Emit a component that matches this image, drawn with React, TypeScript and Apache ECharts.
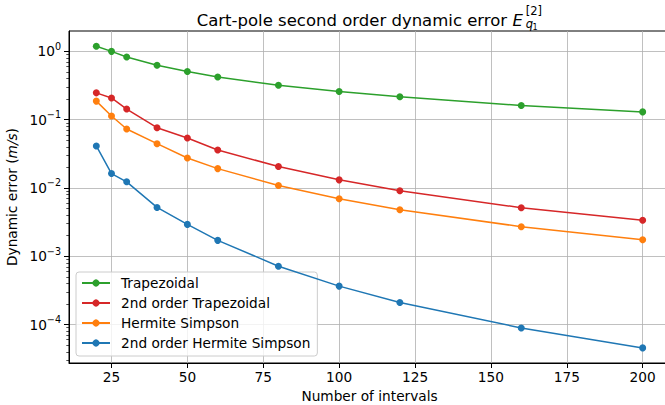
import React, { useEffect, useRef } from "react";
import * as echarts from "echarts";

const intervals = [20, 25, 30, 40, 50, 60, 80, 100, 120, 160, 200];
const trapezoidal = [1.19, 1.0, 0.826, 0.625, 0.506, 0.422, 0.319, 0.258, 0.216, 0.161, 0.13];
const trapezoidal2 = [0.247, 0.208, 0.143, 0.0762, 0.0539, 0.036, 0.0206, 0.01315, 0.0091, 0.00514, 0.00336];
const hermiteSimpson = [0.187, 0.113, 0.0729, 0.0445, 0.0275, 0.0192, 0.01086, 0.00695, 0.00481, 0.00271, 0.00175];
const hermiteSimpson2 = [0.0412, 0.01625, 0.0123, 0.00519, 0.00293, 0.00171, 0.000716, 0.000366, 0.000211, 0.0000893, 0.0000456];

const seriesNames = ["Trapezoidal", "2nd order Trapezoidal", "Hermite Simpson", "2nd order Hermite Simpson"];
const seriesColors = ["#2ca02c", "#d62728", "#ff7f0e", "#1f77b4"];
const seriesValues = [trapezoidal, trapezoidal2, hermiteSimpson, hermiteSimpson2];

const xTicks = [25, 50, 75, 100, 125, 150, 175, 200];
const yTicks = [1e-4, 1e-3, 1e-2, 1e-1, 1];
const yMinorTicks = [
  3e-5, 4e-5, 5e-5, 6e-5, 7e-5, 8e-5, 9e-5,
  2e-4, 3e-4, 4e-4, 5e-4, 6e-4, 7e-4, 8e-4, 9e-4,
  2e-3, 3e-3, 4e-3, 5e-3, 6e-3, 7e-3, 8e-3, 9e-3,
  2e-2, 3e-2, 4e-2, 5e-2, 6e-2, 7e-2, 8e-2, 9e-2,
  2e-1, 3e-1, 4e-1, 5e-1, 6e-1, 7e-1, 8e-1, 9e-1,
];

const FONT = "DejaVu Sans";
const FS = 13.7;
const Y_MIN = 2.74e-5;
const Y_MAX = 1.986;

export default function App() {
  const ref = useRef<HTMLDivElement>(null);
  useEffect(() => {
    const chart = echarts.init(ref.current!, null, { renderer: "svg" });
    const series = seriesNames.map((name, i) => ({
      name,
      type: "line",
      data: intervals.map((x, j) => [x, seriesValues[i][j]]),
      symbol: "circle",
      symbolSize: 7,
      showSymbol: true,
      color: seriesColors[i],
      lineStyle: { width: 1.5, color: seriesColors[i] },
      itemStyle: { color: seriesColors[i] },
      z: 3 + i,
    }));
    chart.setOption({
      animation: false,
      backgroundColor: "#fff",
      textStyle: { fontFamily: FONT },
      grid: {
        left: 69,
        top: 31,
        right: 10,
        bottom: 42,
        show: true,
        borderColor: "#000",
        borderWidth: 1,
        backgroundColor: "transparent",
        containLabel: false,
        outerBoundsMode: "none",
      },
      legend: {
        orient: "vertical",
        left: 76,
        top: 272,
        itemWidth: 28,
        itemHeight: 9,
        itemGap: 6,
        padding: [4, 7, 6, 5],
        backgroundColor: "rgba(255,255,255,0.8)",
        borderColor: "#cccccc",
        borderWidth: 1,
        borderRadius: 3,
        data: seriesNames,
        textStyle: { fontFamily: FONT, fontSize: FS, color: "#000", padding: [0, 0, 0, 6], lineHeight: 14 },
      },
      xAxis: {
        type: "value",
        min: 11,
        max: 209,
        name: "Number of intervals",
        nameLocation: "middle",
        nameGap: 22,
        nameTextStyle: { fontFamily: FONT, fontSize: FS, color: "#000" },
        axisLine: { show: true, lineStyle: { color: "#000", width: 1 } },
        axisTick: { show: true, customValues: xTicks, length: 5, lineStyle: { color: "#000", width: 1 } },
        axisLabel: { customValues: xTicks, margin: 7, fontFamily: FONT, fontSize: FS, color: "#000" },
        splitLine: { show: true, lineStyle: { color: "#b0b0b0", width: 0.8 } },
      },
      yAxis: [
        {
          type: "log",
          logBase: 10,
          min: Y_MIN,
          max: Y_MAX,
          position: "left",
          name: "Dynamic error ({i|m/s})",
          nameLocation: "middle",
          nameRotate: 90,
          nameGap: 40,
          nameTextStyle: {
            fontFamily: FONT,
            fontSize: FS,
            color: "#000",
            rich: { i: { fontFamily: FONT, fontSize: FS, fontStyle: "italic", color: "#000" } },
          },
          axisLine: { show: true, lineStyle: { color: "#000", width: 1 } },
          axisTick: { show: true, customValues: yTicks, length: 5, lineStyle: { color: "#000", width: 1 } },
          axisLabel: {
            customValues: yTicks,
            margin: 8,
            color: "#000",
            formatter: (v: number) => {
              const e = Math.round(Math.log10(v));
              const s = e === 0 ? "0" : "\u2212" + Math.abs(e);
              return "{b|10}{s|" + s + "}";
            },
            rich: {
              b: { fontFamily: FONT, fontSize: FS, color: "#000" },
              s: { fontFamily: FONT, fontSize: 9.6, color: "#000", padding: [0, 0, 10, 0] },
            },
          },
          splitLine: { show: true, lineStyle: { color: "#b0b0b0", width: 0.8 } },
        },
        {
          type: "log",
          logBase: 10,
          min: Y_MIN,
          max: Y_MAX,
          position: "left",
          axisLine: { show: false },
          axisLabel: { show: false },
          splitLine: { show: false },
          axisTick: { show: true, customValues: yMinorTicks, length: 2.7, lineStyle: { color: "#000", width: 0.7 } },
        },
      ],
      series,
      graphic: [
        {
          type: "text",
          x: 196.7,
          y: 20.3,
          style: { text: "Cart-pole second order dynamic error", fontFamily: FONT, fontSize: 16.5, fill: "#000", align: "left", verticalAlign: "middle" },
        },
        {
          type: "text",
          x: 512.5,
          y: 20.3,
          style: { text: "E", fontFamily: FONT, fontSize: 16.5, fontStyle: "italic", fill: "#000", align: "left", verticalAlign: "middle" },
        },
        {
          type: "text",
          x: 525.7,
          y: 10.6,
          style: { text: "[2]", fontFamily: FONT, fontSize: 11.5, fill: "#000", align: "left", verticalAlign: "middle" },
        },
        {
          type: "text",
          x: 525.7,
          y: 23.6,
          style: { text: "q", fontFamily: FONT, fontSize: 11.5, fontStyle: "italic", fill: "#000", align: "left", verticalAlign: "middle" },
        },
        {
          type: "text",
          x: 532.6,
          y: 27,
          style: { text: "1", fontFamily: FONT, fontSize: 8.1, fill: "#000", align: "left", verticalAlign: "middle" },
        },
      ],
    });
    return () => chart.dispose();
  }, []);
  return (
    <div style={{ position: "fixed", left: 0, top: 0, width: 665, height: 405, overflow: "hidden", background: "#fff" }}>
      <div ref={ref} style={{ width: 680, height: 405 }} />
    </div>
  );
}
